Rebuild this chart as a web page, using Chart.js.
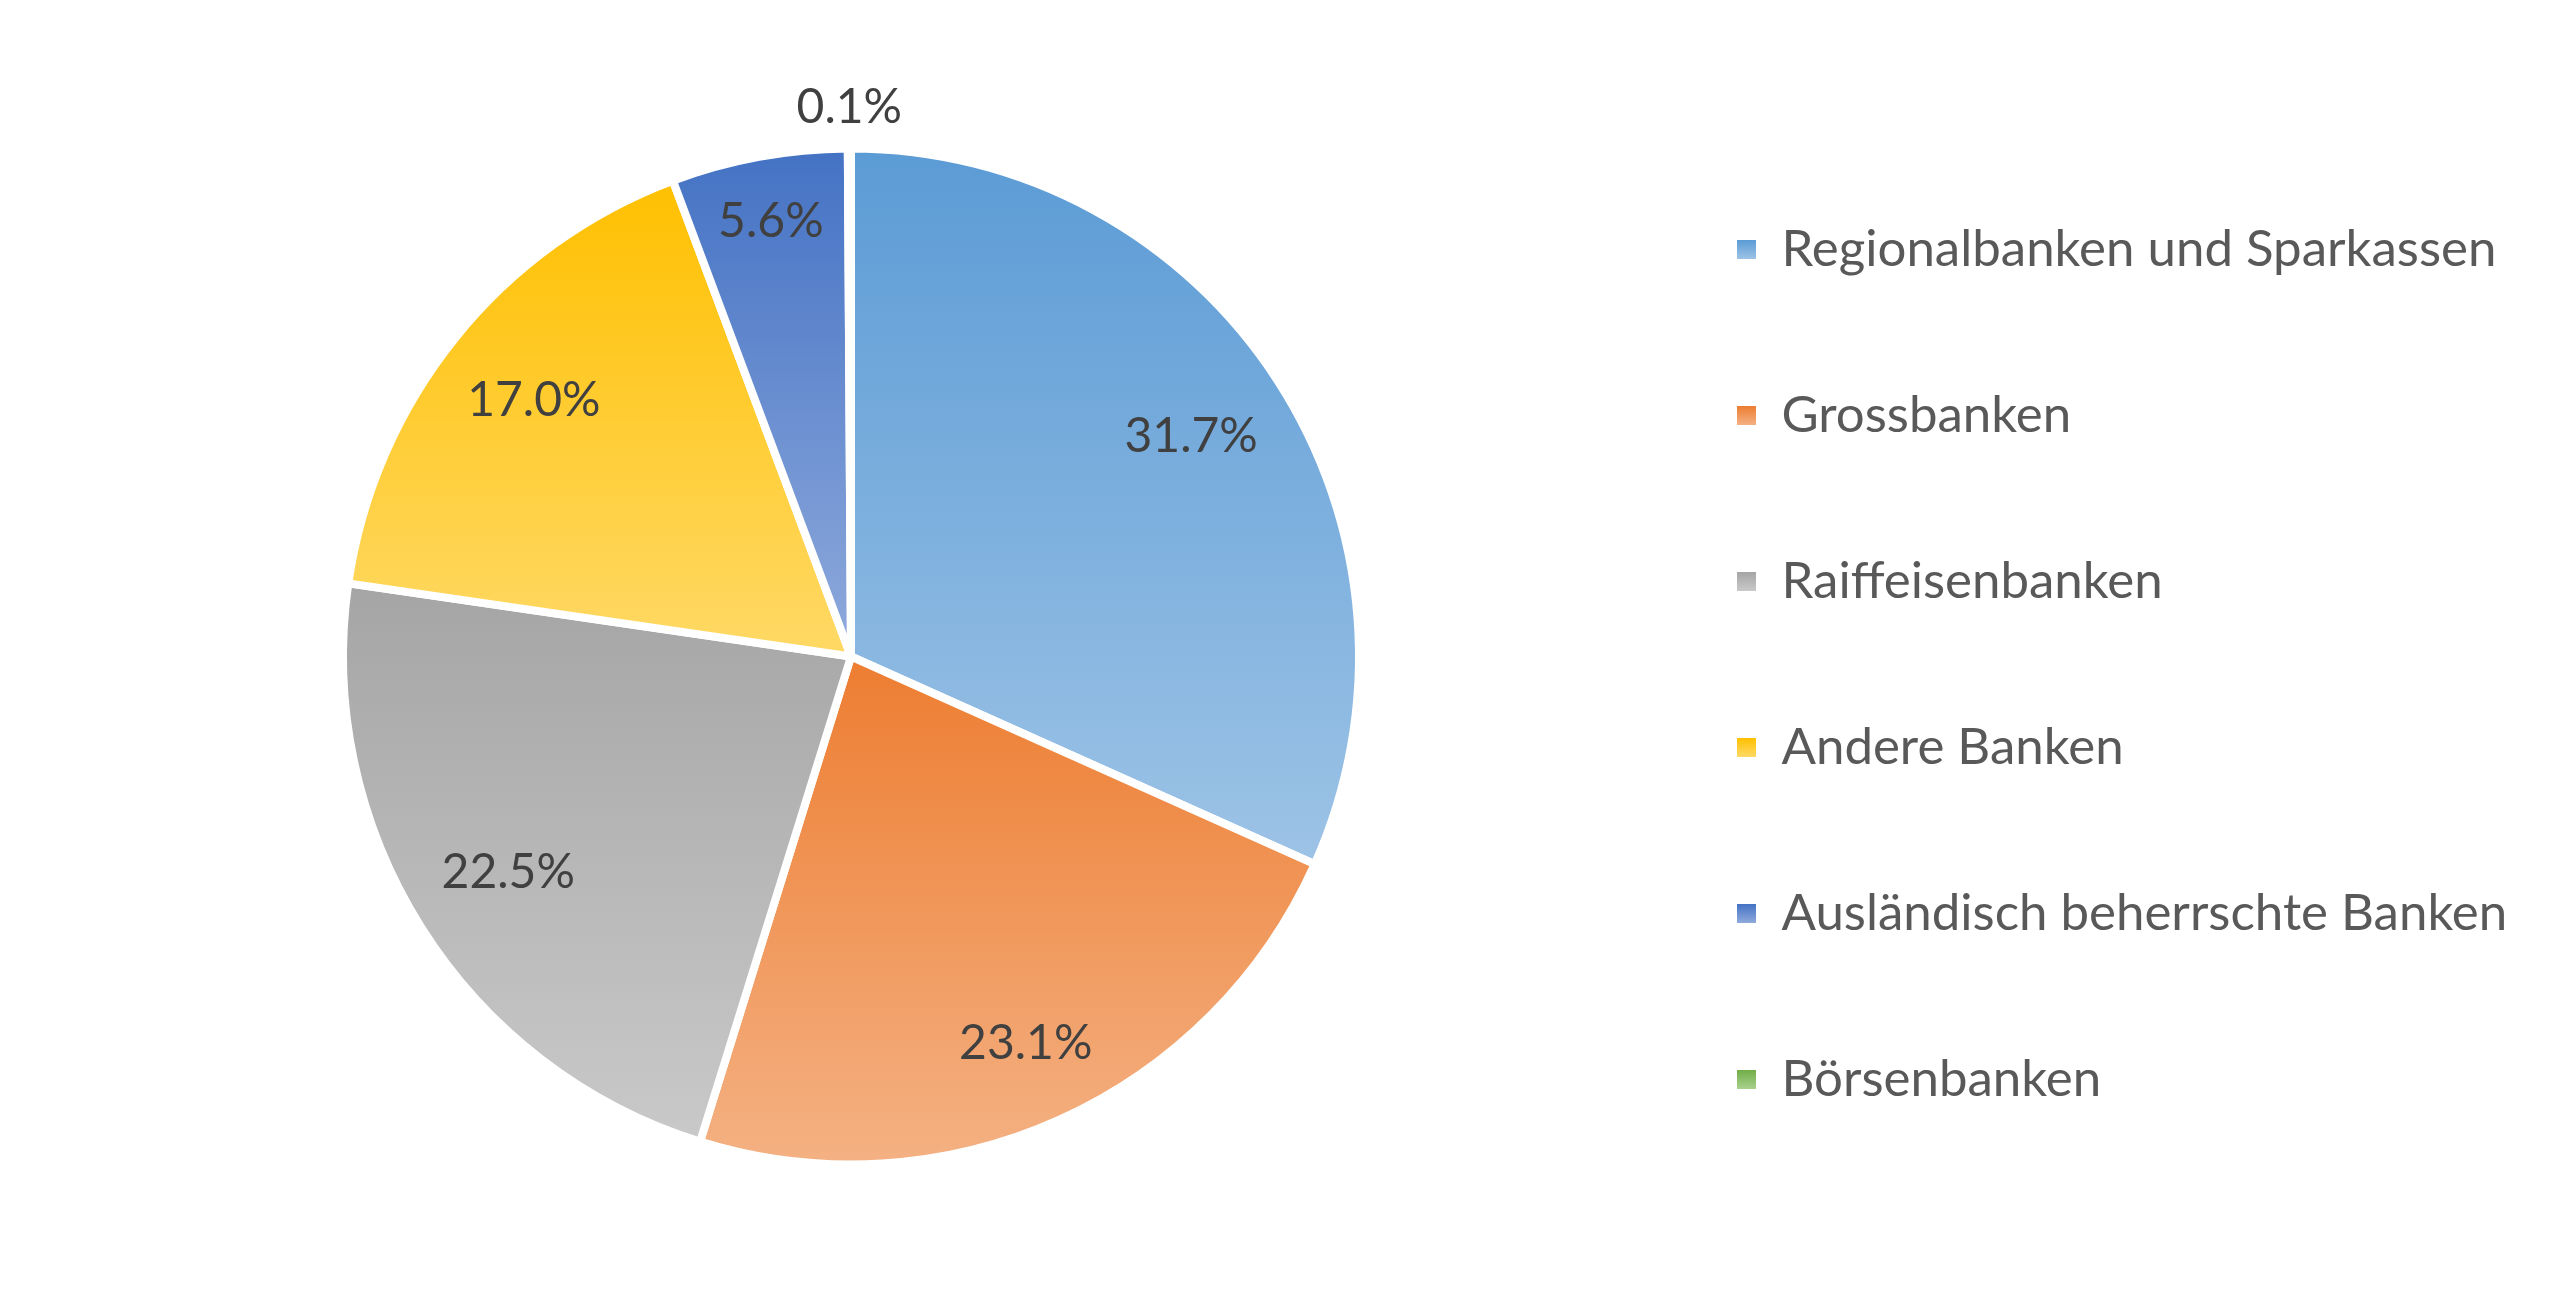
<!DOCTYPE html>
<html><head><meta charset="utf-8">
<script src="https://cdn.jsdelivr.net/npm/chart.js@4"></script>
<style>html,body{margin:0;padding:0;background:#fff}#wrap{width:2560px;height:1313px;position:relative}</style>
</head><body><div id="wrap"><canvas id="c"></canvas></div>
<script>
const categories = ['Regionalbanken und Sparkassen', 'Grossbanken', 'Raiffeisenbanken', 'Andere Banken', 'Ausländisch beherrschte Banken', 'Börsenbanken'];
const shares = [31.7, 23.1, 22.5, 17.0, 5.6, 0.1];
const topColors = ['#5B9BD5', '#ED7D31', '#A5A5A5', '#FFC000', '#4472C4', '#70AD47'];
const bottomColors = ['#9DC3E6', '#F4B183', '#C9C9C9', '#FFD966', '#8FAADC', '#A9D18E'];

const FONT = 'Lato';
const legendFontSize = 51;
const labelFontSize = 48;
const legendPad = 115;
const boxSize = 19;
const legendLeft = 1622;

// measure widest legend text to place legend
const mctx = document.createElement('canvas').getContext('2d');
mctx.font = legendFontSize + 'px ' + FONT;
const maxTextW = Math.max(...categories.map(t => mctx.measureText(t).width));
const legendWidth = legendPad + boxSize + legendFontSize / 2 + maxTextW + 10;
const padRight = Math.max(0, 2560 - legendLeft - legendWidth);
const pieCenterX = 851;
const padLeft = 2 * pieCenterX - legendLeft;

function arcYRange(a) {
  const p = a.getProps(['x', 'y', 'startAngle', 'endAngle', 'outerRadius'], true);
  let yMin = p.y, yMax = p.y;
  const n = 90;
  for (let k = 0; k <= n; k++) {
    const ang = p.startAngle + (p.endAngle - p.startAngle) * k / n;
    const y = p.y + p.outerRadius * Math.sin(ang);
    yMin = Math.min(yMin, y); yMax = Math.max(yMax, y);
  }
  return [yMin, yMax];
}

const gradientPlugin = {
  id: 'sliceGradient',
  beforeDatasetsDraw(chart) {
    const ctx = chart.ctx;
    const meta = chart.getDatasetMeta(0);
    meta.data.forEach((arc, i) => {
      const [y0, y1] = arcYRange(arc);
      const g = ctx.createLinearGradient(0, y0, 0, Math.max(y1, y0 + 1));
      g.addColorStop(0, topColors[i]);
      g.addColorStop(1, bottomColors[i]);
      try { arc.options.backgroundColor = g; } catch (e) {}
    });
  },
  beforeDraw(chart) {
    const lg = chart.legend;
    if (!lg || !lg.legendItems || !lg.legendHitBoxes) return;
    const ctx = chart.ctx;
    lg.legendItems.forEach((it, i) => {
      const hb = lg.legendHitBoxes[i];
      if (!hb) return;
      const y0 = hb.top + Math.max((legendFontSize - boxSize) / 2, 0);
      const g = ctx.createLinearGradient(0, y0, 0, y0 + boxSize);
      g.addColorStop(0, topColors[i]);
      g.addColorStop(1, bottomColors[i]);
      it.fillStyle = g;
    });
  }
};

const labelPlugin = {
  id: 'sliceLabels',
  afterDatasetsDraw(chart) {
    const ctx = chart.ctx;
    const meta = chart.getDatasetMeta(0);
    ctx.save();
    ctx.font = labelFontSize + 'px ' + FONT;
    ctx.fillStyle = '#404040';
    ctx.textAlign = 'center';
    ctx.textBaseline = 'middle';
    meta.data.forEach((arc, i) => {
      const p = arc.getProps(['x', 'y', 'startAngle', 'endAngle', 'outerRadius'], true);
      const mid = (p.startAngle + p.endAngle) / 2;
      const v = shares[i];
      const txt = v.toFixed(1) + '%';
      const dx = Math.cos(mid), dy = Math.sin(mid);
      let t;
      if (v < 1) {
        t = p.outerRadius + 41;
      } else {
        // place label box so its outer corner touches an inner circle
        const hw = ctx.measureText(txt).width / 2 + 4;
        const hh = 22;
        const cx = Math.sign(dx) * hw, cy = Math.sign(dy) * hh;
        const Rc = p.outerRadius - 31;
        const b = dx * cx + dy * cy;
        const c2 = cx * cx + cy * cy;
        t = -b + Math.sqrt(b * b - (c2 - Rc * Rc));
      }
      ctx.fillText(txt, p.x + t * dx, p.y + t * dy);
    });
    ctx.restore();
  }
};

new Chart(document.getElementById('c'), {
  type: 'pie',
  data: {
    labels: categories,
    datasets: [{
      data: shares,
      backgroundColor: topColors,
      borderColor: '#ffffff',
      borderWidth: 8,
      radius: 508
    }]
  },
  options: {
    responsive: true,
    maintainAspectRatio: false,
    animation: false,
    devicePixelRatio: 1,
    layout: { padding: { left: padLeft, right: padRight, top: 0, bottom: 0 } },
    plugins: {
      tooltip: { enabled: false },
      legend: {
        position: 'right',
        align: 'center',
        title: { display: true, text: ' ', font: { size: 10, lineHeight: 1.2 }, padding: { top: 2, bottom: 2 } },
        labels: {
          font: { family: FONT, size: legendFontSize },
          color: '#595959',
          boxWidth: boxSize,
          boxHeight: boxSize,
          padding: legendPad,
          generateLabels: (chart) => categories.map((t, i) => ({
            text: t, fillStyle: topColors[i], strokeStyle: 'rgba(0,0,0,0)', lineWidth: 0,
            hidden: false, index: i, fontColor: '#595959'
          }))
        }
      }
    }
  },
  plugins: [gradientPlugin, labelPlugin]
});
</script>
</body></html>
